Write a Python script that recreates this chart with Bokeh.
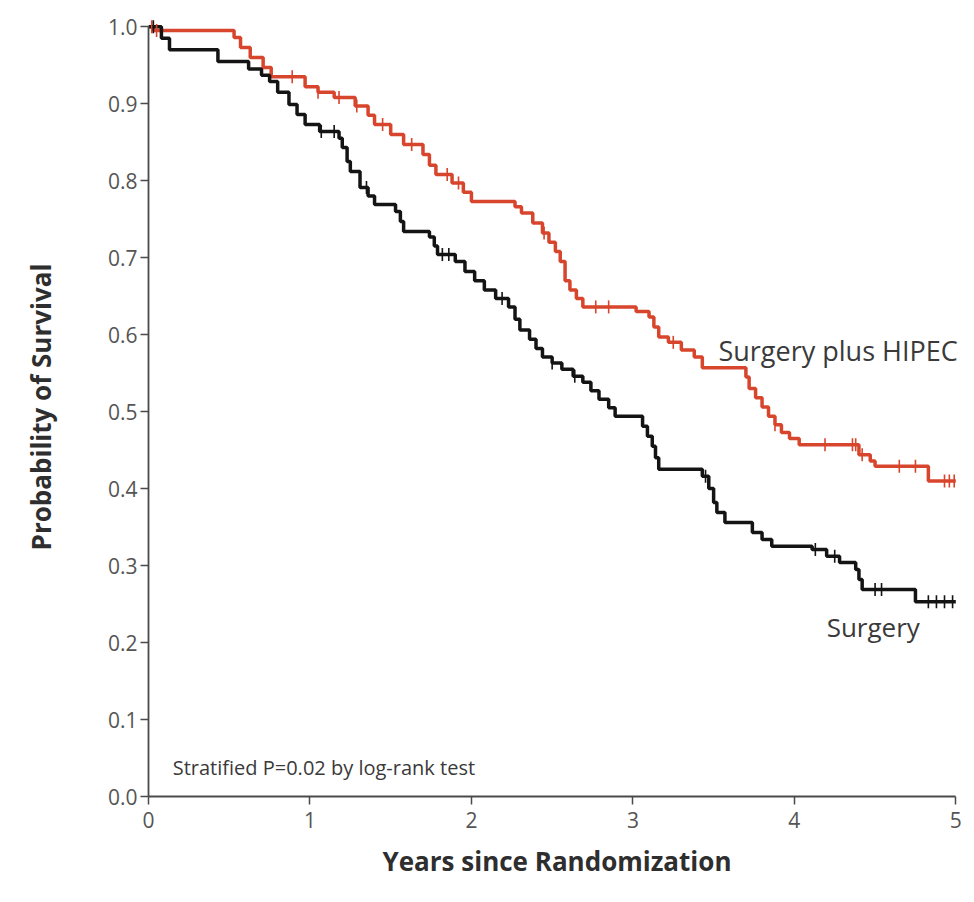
import numpy as np
from bokeh.plotting import figure
from bokeh.models import Range1d, FixedTicker
from bokeh.core.properties import value
from bokeh.embed import file_html
from bokeh.resources import INLINE

# ---- data ----
hipec_t = [0.0, 0.03, 0.53, 0.57, 0.63, 0.71, 0.76, 0.97, 1.05, 1.15, 1.28, 1.36, 1.40, 1.50, 1.58,
           1.70, 1.74, 1.78, 1.88, 1.95, 2.00, 2.27, 2.31, 2.38, 2.44, 2.48, 2.52, 2.55, 2.58,
           2.61, 2.65, 2.69, 3.02, 3.10, 3.13, 3.16, 3.22, 3.30, 3.38, 3.43, 3.70, 3.72, 3.76,
           3.80, 3.84, 3.88, 3.92, 3.97, 4.03, 4.40, 4.47, 4.50, 4.83, 5.0]
hipec_s = [1.0, 0.995, 0.986, 0.973, 0.960, 0.947, 0.935, 0.922, 0.915, 0.908, 0.897, 0.885, 0.873,
           0.860, 0.847, 0.834, 0.820, 0.808, 0.797, 0.785, 0.773, 0.766, 0.758, 0.745, 0.732,
           0.720, 0.708, 0.695, 0.670, 0.658, 0.647, 0.636, 0.630, 0.623, 0.610, 0.597, 0.590,
           0.580, 0.571, 0.557, 0.545, 0.530, 0.518, 0.506, 0.494, 0.483, 0.473, 0.465, 0.457,
           0.444, 0.436, 0.429, 0.410, 0.410]
hipec_cens = [0.02, 0.05, 0.89, 1.05, 1.18, 1.29, 1.45, 1.63, 1.85, 1.92, 2.45, 2.77, 2.85, 3.25,
              3.88, 4.19, 4.36, 4.38, 4.42, 4.65, 4.75, 4.93, 4.96, 4.99]

surg_t = [0.0, 0.08, 0.13, 0.43, 0.62, 0.70, 0.75, 0.80, 0.87, 0.92, 0.97, 1.06, 1.18, 1.20, 1.23,
          1.25, 1.31, 1.36, 1.40, 1.53, 1.56, 1.58, 1.74, 1.77, 1.79, 1.90, 1.96, 2.02, 2.08,
          2.15, 2.23, 2.27, 2.30, 2.36, 2.40, 2.44, 2.50, 2.56, 2.63, 2.69, 2.74, 2.79, 2.85,
          2.89, 3.06, 3.09, 3.12, 3.14, 3.16, 3.43, 3.47, 3.50, 3.52, 3.57, 3.74, 3.80, 3.86,
          4.11, 4.20, 4.28, 4.38, 4.40, 4.42, 4.75, 5.0]
surg_s = [1.0, 0.985, 0.970, 0.955, 0.945, 0.937, 0.929, 0.915, 0.899, 0.886, 0.873, 0.864, 0.855,
          0.843, 0.825, 0.812, 0.791, 0.780, 0.769, 0.760, 0.747, 0.734, 0.727, 0.715, 0.704,
          0.695, 0.682, 0.670, 0.658, 0.647, 0.636, 0.620, 0.606, 0.594, 0.582, 0.571, 0.563,
          0.555, 0.546, 0.538, 0.527, 0.516, 0.505, 0.494, 0.481, 0.468, 0.455, 0.440, 0.425,
          0.416, 0.400, 0.382, 0.369, 0.356, 0.343, 0.334, 0.325, 0.321, 0.312, 0.304, 0.295,
          0.282, 0.269, 0.253, 0.253]
surg_cens = [0.03, 1.07, 1.15, 1.35, 1.82, 1.86, 2.19, 2.50, 2.64, 3.45, 4.13, 4.25, 4.50, 4.54,
             4.83, 4.88, 4.93, 4.98]

x_ticks = [0, 1, 2, 3, 4, 5]
y_ticks = [0.0, 0.1, 0.2, 0.3, 0.4, 0.5, 0.6, 0.7, 0.8, 0.9, 1.0]

RED = "#d7452c"
BLACK = "#141414"
FONT = "Open Sans"


def step_value(times, surv, at):
    idx = np.searchsorted(np.array(times), np.array(at), side="right") - 1
    return list(np.array(surv)[idx])


p = figure(width=966, height=893, output_backend="svg", toolbar_location=None,
           x_range=Range1d(0, 5.06), y_range=Range1d(0, 1.012),
           min_border_left=148, min_border_right=1, min_border_top=17, min_border_bottom=97)
p.outline_line_color = None
p.grid.grid_line_color = None
p.background_fill_color = "white"

p.step(hipec_t, hipec_s, mode="after", line_color=RED, line_width=3.5)
p.step(surg_t, surg_s, mode="after", line_color=BLACK, line_width=3.5)

p.scatter(hipec_cens, step_value(hipec_t, hipec_s, hipec_cens), marker="dash", angle=np.pi / 2,
          size=13, line_color=RED, line_width=1.6)
p.scatter(surg_cens, step_value(surg_t, surg_s, surg_cens), marker="dash", angle=np.pi / 2,
          size=13, line_color=BLACK, line_width=1.6)

p.text(x=[3.53], y=[0.58], text=["Surgery plus HIPEC"], text_font=value(FONT),
       text_font_size="27px", text_color="#3a3a3a", text_baseline="middle", text_align="left")
p.text(x=[4.2], y=[0.22], text=["Surgery"], text_font=value(FONT),
       text_font_size="26px", text_color="#3a3a3a", text_baseline="middle", text_align="left")
p.text(x=[0.15], y=[0.038], text=["Stratified P=0.02 by log-rank test"], text_font=value(FONT),
       text_font_size="20px", text_color="#3a3a3a", text_baseline="middle", text_align="left")

for ax in (p.xaxis[0], p.yaxis[0]):
    ax.axis_line_color = "#4a4a4a"
    ax.axis_line_width = 1.8
    ax.major_tick_line_color = "#4a4a4a"
    ax.major_tick_line_width = 1.5
    ax.major_tick_in = 0
    ax.major_tick_out = 8
    ax.minor_tick_line_color = None
    ax.major_label_text_font = FONT
    ax.major_label_text_font_size = "21px"
    ax.major_label_text_color = "#555555"
    ax.axis_label_text_font = FONT
    ax.axis_label_text_font_size = "26px"
    ax.axis_label_text_font_style = "bold"
    ax.axis_label_text_color = "#2e2e2e"

p.xaxis.bounds = (0, 5)
p.yaxis.bounds = (0, 1)
p.xaxis.ticker = FixedTicker(ticks=x_ticks)
p.yaxis.ticker = FixedTicker(ticks=y_ticks)
p.yaxis.major_label_overrides = {t: f"{t:.1f}" for t in y_ticks}
p.xaxis.major_label_overrides = {t: str(t) for t in x_ticks}
p.xaxis.axis_label = "Years since Randomization"
p.yaxis.axis_label = "Probability of Survival"
p.xaxis.major_label_standoff = 7
p.xaxis.axis_label_standoff = 12
p.yaxis.major_label_standoff = 3
p.yaxis.axis_label_standoff = 46

open("out.html", "w").write(file_html(p, INLINE))
